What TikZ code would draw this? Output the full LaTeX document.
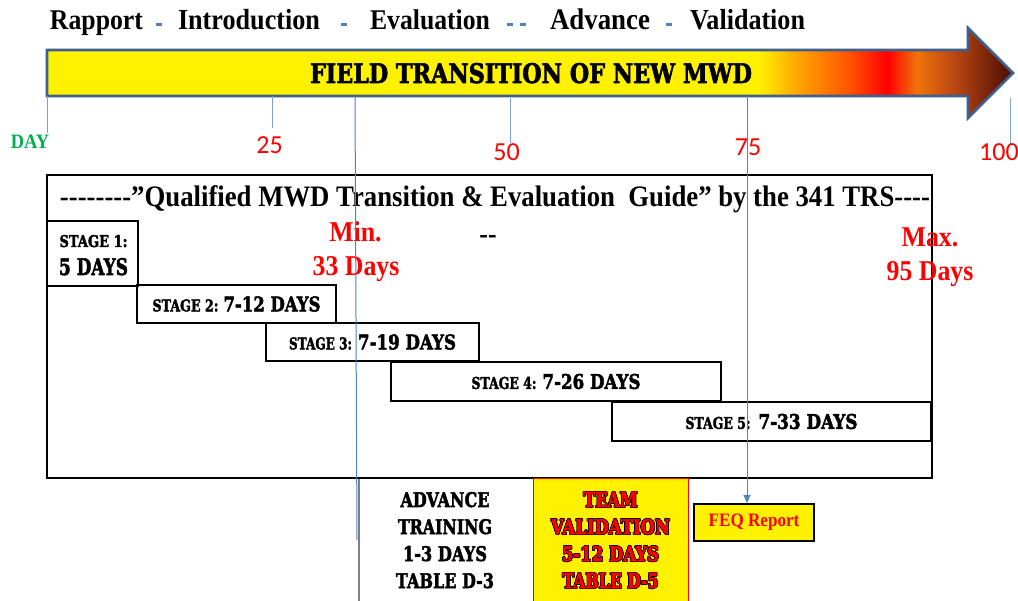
\documentclass[tikz,border=0pt]{standalone}
\usepackage{fontspec}
\usepackage{contour}
\setmainfont{Liberation Serif}[FakeStretch=0.9,Ligatures=TeXOff]
\newfontfamily\stencil{DejaVu Serif}[FakeBold=2.5]
\newfontfamily\calibri{Carlito}
\usetikzlibrary{arrows.meta,positioning}
\contourlength{0.6pt}

\definecolor{arrowblue}{RGB}{62,96,140}
\definecolor{tickblue}{RGB}{125,160,210}
\definecolor{lineblue}{RGB}{80,130,200}
\definecolor{dashblue}{RGB}{79,129,189}
\definecolor{daygreen}{RGB}{0,176,80}
\definecolor{fyellow}{RGB}{255,242,0}
\definecolor{forange}{RGB}{255,160,0}
\definecolor{fred1}{RGB}{255,85,0}
\definecolor{fred}{RGB}{255,0,0}
\definecolor{forange2}{RGB}{240,115,10}
\definecolor{fbrown}{RGB}{185,70,20}
\definecolor{fdark}{RGB}{90,20,5}
\pgfdeclarehorizontalshading{fieldgrad}{100bp}{color(0bp)=(fyellow); color(25bp)=(fyellow);
  color(61.8bp)=(fyellow); color(64bp)=(forange); color(66.5bp)=(fred1); color(68.5bp)=(fred);
  color(70bp)=(forange2); color(72bp)=(fbrown); color(74.5bp)=(fdark); color(100bp)=(fdark)}

\newcommand\fit[3]{\resizebox{#1}{#2}{#3}}

\tikzset{
  frame/.style={draw=black, line width=2.6pt},
  stagebox/.style={draw=black, line width=2.4pt, inner sep=0pt, font=\stencil\bfseries},
  tick/.style={draw=tickblue, line width=1pt},
  guide/.style={draw=lineblue, line width=1pt},
  word/.style={anchor=base, inner sep=0pt, font=\bfseries\fontsize{28}{30}\selectfont},
  daynum/.style={anchor=base, inner sep=0pt, text=red, font=\calibri\fontsize{26}{28}\selectfont},
  sep/.style={fill=dashblue, minimum width=6pt, minimum height=3pt, inner sep=0pt},
  redtext/.style={anchor=base, inner sep=0pt, text=red, font=\bfseries\fontsize{28.7}{30}\selectfont},
  stentext/.style={anchor=base, inner sep=0pt, font=\stencil\bfseries},
}

\begin{document}
\begin{tikzpicture}[x=1pt,y=-1pt]
  \useasboundingbox (0,0) rectangle (1018,601);
  \fill[white] (0,0) rectangle (1018,601);

  % phases above the arrow
  \foreach \x/\w/\t [count=\i] in {96.5/93/Rapport,249/142/Introduction,430/120/Evaluation,600/100/Advance,747.5/115/Validation}
    \node[word] (ph\i) at (\x,30) {\resizebox{\w pt}{!}{\t}};
  \foreach \x [count=\i] in {159,344,510,523,669}
    \node[sep] (sep\i) at (\x,25) {};

  % big arrow
  \shadedraw[shading=fieldgrad, draw=arrowblue, line width=2.6pt, line join=miter]
    (47,50) -- (968,50) -- (968,28) -- (1013,73) -- (968,118) -- (968,96) -- (47,96) -- cycle;
  \node[stentext] (field) at (531,83) {\fit{442pt}{20pt}{FIELD TRANSITION OF NEW MWD}};

  % day scale
  \draw[tick] (47,96) -- (47,133);
  \draw[tick] (272,96) -- (272,128);
  \draw[tick] (510,98) -- (510,143);
  \draw[tick] (1010,98) -- (1010,144);
  \node[anchor=base, inner sep=0pt, text=daygreen, font=\bfseries\fontsize{20.5}{22}\selectfont] (day0) at (30,149) {DAY};
  \foreach \x/\y/\t [count=\i] in {269.5/154/25,506.5/161/50,748/156/75,999/161/100}
    \node[daynum] (day\i) at (\x,\y) {\t};

  % guide box
  \draw[frame] (47,175) rectangle (932,478);
  \node[anchor=base, inner sep=0pt] (guide) at (495,207)
    {\fit{870pt}{!}{\bfseries\fontsize{29}{30}\selectfont --------”Qualified MWD Transition \& Evaluation\ \ Guide” by the 341 TRS----}};

  % stages
  \node[stagebox, minimum width=91pt, minimum height=65pt] (st1) at (92.5,253.5) {};
  \node[stentext] (st1a) at (93.5,247) {\fit{68pt}{12pt}{STAGE 1:}};
  \node[stentext] (st1b) at (93.5,275) {\fit{69pt}{17pt}{5 DAYS}};
  \node[stagebox, minimum width=199pt, minimum height=38pt] (st2) at (236.5,304)
    {\fit{66pt}{12pt}{STAGE 2:}\hspace{5pt}\fit{97pt}{15pt}{7-12 DAYS}};
  \node[stagebox, minimum width=213pt, minimum height=38pt] (st3) at (372.5,342)
    {\fit{63pt}{12pt}{STAGE 3:}\hspace{6pt}\fit{98pt}{15pt}{7-19 DAYS}};
  \node[stagebox, minimum width=330pt, minimum height=39pt] (st4) at (556,381.5)
    {\fit{65pt}{12pt}{STAGE 4:}\hspace{6pt}\fit{98pt}{15pt}{7-26 DAYS}};
  \node[stagebox, minimum width=319pt, minimum height=39pt] (st5) at (771.5,421.5)
    {\fit{65pt}{12pt}{STAGE 5:}\hspace{8pt}\fit{99pt}{15pt}{7-33 DAYS}};

  % min and max
  \node[redtext] (min) at (355.5,242) {Min.};
  \node[redtext] (mindays) at (356,276) {33 Days};
  \node[anchor=base, inner sep=0pt, font=\bfseries\fontsize{28.7}{30}\selectfont] (mid) at (488,244) {--};
  \node[redtext] (max) at (930,247) {Max.};
  \node[redtext] (maxdays) at (930,281) {95 Days};

  % below the box
  \draw[line width=1.2pt, draw=gray] (359,479) -- (359,601);
  \foreach \w/\t [count=\i] in {89/ADVANCE,94/TRAINING,84/1-3 DAYS,98/TABLE D-3}
    \node[stentext] (adv\i) at (445,480+27*\i) {\fit{\w pt}{15pt}{\t}};
  \node[draw=red, line width=1pt, fill=yellow, minimum width=155pt, minimum height=125pt] (team) at (610.5,541.5) {};
  \foreach \w/\t [count=\i] in {54/TEAM,119/VALIDATION,97/5-12 DAYS,96/TABLE D-5}
    \node[stentext, text=red] (tm\i) at (610.5,480+27*\i) {\contour{black}{\fit{\w pt}{15pt}{\t}}};
  \node[draw, line width=2pt, fill=yellow, minimum width=120pt, minimum height=37pt, text=red,
    font=\bfseries\fontsize{19}{20}\selectfont] (feq) at (754,522.5) {FEQ Report};

  % guide lines
  \coordinate (g33) at (355,96);
  \coordinate (g33e) at (357,540);
  \draw[guide] (g33) -- (g33e);
  \coordinate (g75) at (747,96);
  \draw[guide, -{Triangle[length=8pt,width=7pt]}] (g75) -- (g75 |- feq.north);
\end{tikzpicture}
\end{document}
